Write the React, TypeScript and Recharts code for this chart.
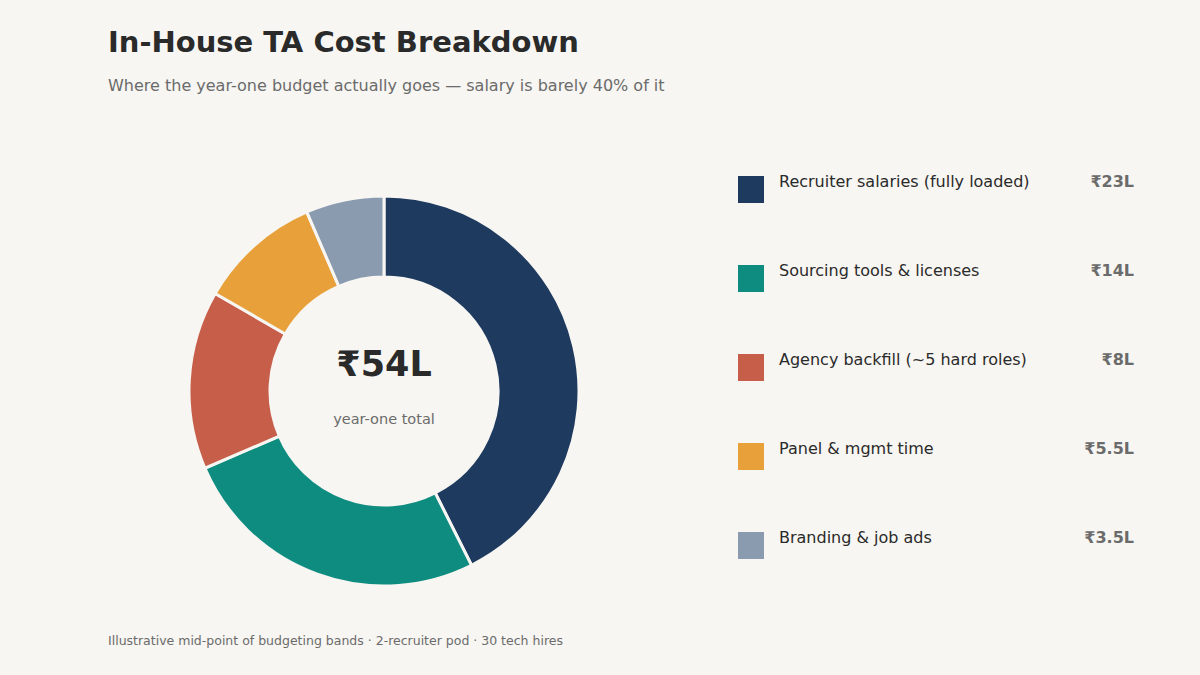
import React from "react";
import { PieChart, Pie, Cell } from "recharts";

const categories = [
  "Recruiter salaries (fully loaded)",
  "Sourcing tools & licenses",
  "Agency backfill (~5 hard roles)",
  "Panel & mgmt time",
  "Branding & job ads",
];
const values = [23, 14, 8, 5.5, 3.5];
const valueLabels = ["₹23L", "₹14L", "₹8L", "₹5.5L", "₹3.5L"];
const colors = ["#1f3a5f", "#0f8c80", "#c65e4a", "#e8a13a", "#8a9bb0"];

const data = categories.map((name, i) => ({ name, value: values[i] }));
const total = values.reduce((a, b) => a + b, 0);

const BG = "#f7f6f2";
const FONT = "'DejaVu Sans', sans-serif";

export default function App() {
  return (
    <div
      style={{
        position: "absolute",
        left: 0,
        top: 0,
        width: 1200,
        height: 675,
        background: BG,
        fontFamily: FONT,
        overflow: "hidden",
      }}
    >
      <div
        style={{
          position: "absolute",
          left: 108,
          top: 25,
          fontSize: 29,
          fontWeight: "bold",
          color: "#2a2a2a",
          whiteSpace: "nowrap",
        }}
      >
        In-House TA Cost Breakdown
      </div>
      <div
        style={{
          position: "absolute",
          left: 108,
          top: 76,
          fontSize: 16,
          color: "#6b6b6b",
          whiteSpace: "nowrap",
        }}
      >
        Where the year-one budget actually goes — salary is barely 40% of it
      </div>

      <div style={{ position: "absolute", left: 179, top: 186 }}>
        <PieChart width={400} height={400}>
          <Pie
            data={data}
            dataKey="value"
            nameKey="name"
            cx={200}
            cy={200}
            outerRadius={195}
            innerRadius={114}
            startAngle={90}
            endAngle={-270}
            stroke={BG}
            strokeWidth={3}
            isAnimationActive={false}
          >
            {data.map((d, i) => (
              <Cell key={d.name} fill={colors[i]} />
            ))}
          </Pie>
        </PieChart>
      </div>

      <div
        style={{
          position: "absolute",
          left: 284,
          width: 200,
          top: 344,
          textAlign: "center",
          fontSize: 35,
          fontWeight: "bold",
          color: "#2a2a2a",
        }}
      >
        ₹{total}L
      </div>
      <div
        style={{
          position: "absolute",
          left: 284,
          width: 200,
          top: 411,
          textAlign: "center",
          fontSize: 14.5,
          color: "#6b6b6b",
        }}
      >
        year-one total
      </div>

      {categories.map((c, i) => (
        <div key={c}>
          <div
            style={{
              position: "absolute",
              left: 738,
              top: 176 + i * 89,
              width: 26,
              height: 27,
              background: colors[i],
            }}
          />
          <div
            style={{
              position: "absolute",
              left: 779,
              top: 172 + i * 89,
              fontSize: 16,
              color: "#2a2a2a",
              whiteSpace: "nowrap",
            }}
          >
            {c}
          </div>
          <div
            style={{
              position: "absolute",
              right: 1200 - 1134,
              top: 172 + i * 89,
              fontSize: 16,
              fontWeight: "bold",
              color: "#6b6b6b",
              whiteSpace: "nowrap",
            }}
          >
            {valueLabels[i]}
          </div>
        </div>
      ))}

      <div
        style={{
          position: "absolute",
          left: 108,
          top: 633,
          fontSize: 12.5,
          color: "#6b6b6b",
          whiteSpace: "nowrap",
        }}
      >
        Illustrative mid-point of budgeting bands · 2-recruiter pod · 30 tech hires
      </div>
    </div>
  );
}
